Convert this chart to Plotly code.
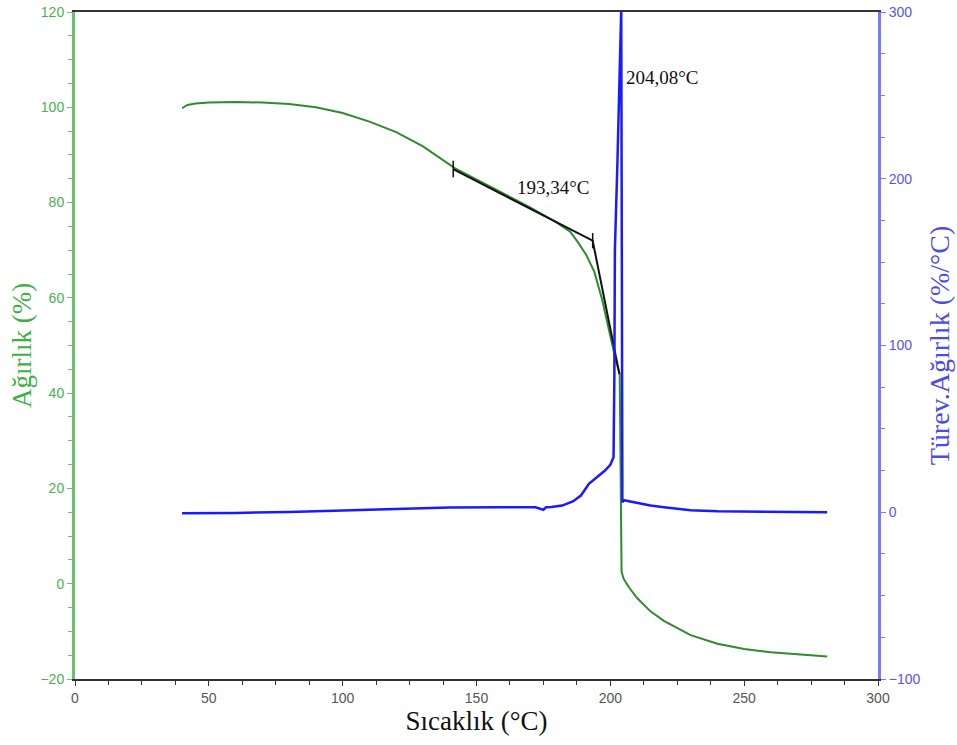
import plotly.graph_objects as go

# TGA weight curve (left axis)
temp_tga = [40, 42, 45, 50, 60, 70, 80, 90, 100, 110, 120, 130, 142, 150, 160, 170, 180, 185, 188,
            191, 194, 197, 200, 202, 203.5, 204.0, 204.2, 205, 207, 210, 215, 220, 230, 240, 250,
            260, 270, 281]
weight = [99.8, 100.5, 100.8, 101.0, 101.1, 101.0, 100.7, 100.0, 98.8, 97.0, 94.8, 91.8, 87.2,
          84.9, 82.0, 79.0, 75.8, 73.9, 71.6, 69.0, 65.5, 59.5, 52.0, 47.0, 44.0, 20.0, 2.5,
          1.0, -0.8, -3.0, -5.8, -7.8, -10.8, -12.6, -13.7, -14.4, -14.9, -15.3]

# DTG derivative curve (right axis)
temp_dtg = [40, 50, 60, 80, 100, 120, 140, 160, 172, 175, 176, 178, 182, 186, 189, 192, 195,
            198, 200, 201.2, 201.5, 201.7, 202.6, 203.3, 203.8, 204.08, 204.3, 204.5,
            205.0, 207, 210, 215, 220, 230, 240, 260, 281]
dtg = [-0.6, -0.6, -0.4, 0.2, 1.0, 2.2, 2.8, 3.0, 3.0, 1.5, 3.0, 3.2, 4.0, 6.5, 10.0, 17.0,
       21.0, 25.0, 28.5, 33.0, 80, 157, 207, 257, 285, 302, 150, 6.0, 7.2, 6.5, 5.4, 4.0,
       3.0, 1.2, 0.6, 0.2, 0.0]

# Onset tangent construction
tangent_x = [141.3, 193.4, 203.4]
tangent_y = [87.0, 72.0, 44.0]
marker_x = [141.3, 141.3, None, 193.4, 193.4]
marker_y = [85.3, 88.8, None, 70.4, 73.6]

onset_label = "193,34°C"
peak_label = "204,08°C"

green = "#2e8b2e"
green_axis = "#6cc06c"
blue = "#1a1aff"
blue_axis = "#7a7aff"
serif = "Liberation Serif, Times New Roman, serif"
sans = "Liberation Sans, Arial, sans-serif"

fig = go.Figure()
fig.add_trace(go.Scatter(x=temp_tga, y=weight, mode="lines",
                         line=dict(color=green, width=2), yaxis="y", showlegend=False))
fig.add_trace(go.Scatter(x=temp_dtg, y=dtg, mode="lines",
                         line=dict(color=blue, width=2.5), yaxis="y2", showlegend=False))
fig.add_trace(go.Scatter(x=tangent_x, y=tangent_y, mode="lines",
                         line=dict(color="#111111", width=2), yaxis="y", showlegend=False))
fig.add_trace(go.Scatter(x=marker_x, y=marker_y, mode="lines",
                         line=dict(color="#111111", width=1.5), yaxis="y", showlegend=False))

fig.add_annotation(x=164.4, y=83.1, xref="x", yref="y", text=onset_label, showarrow=False,
                   xanchor="left", yanchor="middle", font=dict(family=serif, size=19, color="#111"))
fig.add_annotation(x=205.2, y=106.2, xref="x", yref="y", text=peak_label, showarrow=False,
                   xanchor="left", yanchor="middle", font=dict(family=serif, size=19, color="#111"))

fig.update_layout(
    width=957, height=745,
    margin=dict(l=75, r=79, t=12, b=66, autoexpand=False),
    plot_bgcolor="white", paper_bgcolor="white",
    xaxis=dict(range=[0, 300], dtick=50, tick0=0, showgrid=False, zeroline=False,
               automargin=False, ticklabeloverflow="allow",
               showline=True, linecolor="#333333", linewidth=2, mirror=True,
               ticks="outside", ticklen=5, tickcolor="#333333",
               minor=dict(dtick=12.5, ticks="outside", ticklen=4, tickcolor="#333333"),
               tickfont=dict(family=sans, size=14, color="#555555"),
               title=dict(text="Sıcaklık (°C)", font=dict(family=serif, size=27, color="#111"),
                          standoff=4)),
    yaxis=dict(range=[-20, 120], dtick=20, tick0=0, showgrid=False, zeroline=False,
               automargin=False, ticklabeloverflow="allow",
               showline=True, linecolor=green_axis, linewidth=3,
               ticks="outside", ticklen=5, tickcolor=green_axis,
               minor=dict(dtick=5, ticks="outside", ticklen=4, tickcolor=green_axis),
               tickfont=dict(family=sans, size=14, color="#4caf50"),
               title=dict(text="Ağırlık (%)", font=dict(family=serif, size=27, color="#3cb043"),
                          standoff=2)),
    yaxis2=dict(range=[-100, 300], dtick=100, tick0=0, overlaying="y", side="right",
                showgrid=False, zeroline=False, automargin=False, ticklabeloverflow="allow",
                showline=True, linecolor=blue_axis, linewidth=3,
                ticks="outside", ticklen=5, tickcolor=blue_axis,
                minor=dict(dtick=25, ticks="outside", ticklen=4, tickcolor=blue_axis),
                tickfont=dict(family=sans, size=14, color="#5555ee"),
                title=dict(text="Türev.Ağırlık (%/°C)", font=dict(family=serif, size=28, color="#4a4aee"),
                           standoff=10)),
)

fig.write_html("out.html", config={"displayModeBar": False},
               post_script="document.body.style.margin='0';document.body.style.overflow='hidden';")
